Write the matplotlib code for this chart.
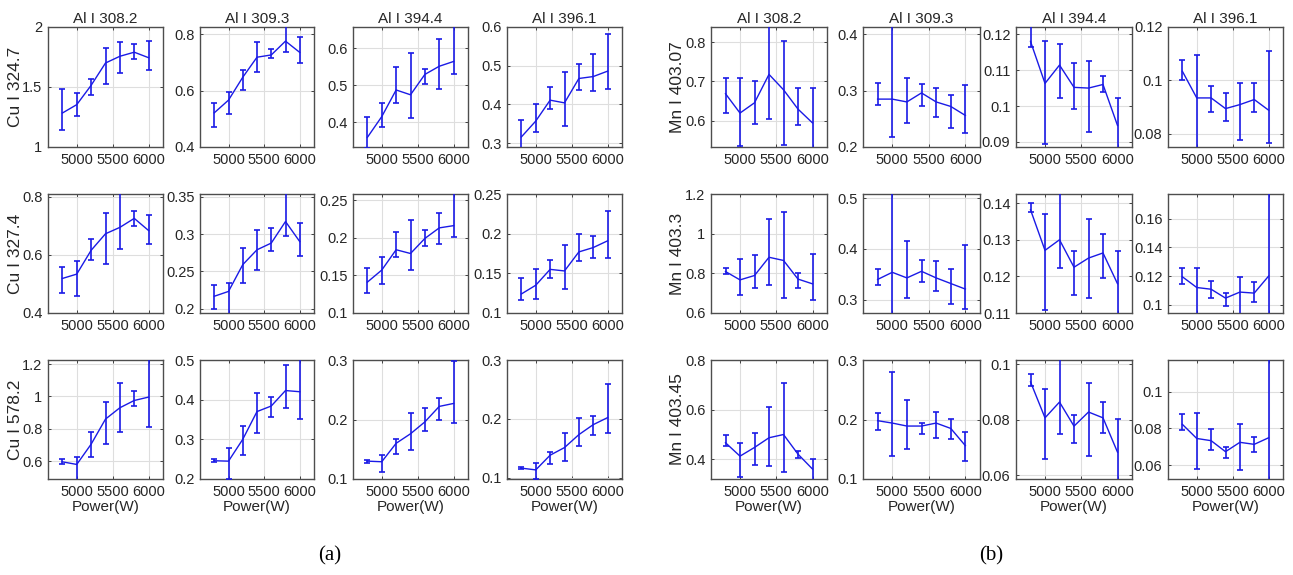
import matplotlib
matplotlib.use('Agg')
import matplotlib.pyplot as plt
import matplotlib.ticker as mticker

######## DATA ############
power = [4800, 5000, 5200, 5400, 5600, 5800, 6000]

al_lines = ['Al I 308.2', 'Al I 309.3', 'Al I 394.4', 'Al I 396.1']
cu_lines = ['Cu I 324.7', 'Cu I 327.4', 'Cu I 578.2']
mn_lines = ['Mn I 403.07', 'Mn I 403.3', 'Mn I 403.45']

# (a) Cu/Al intensity ratio: rows = Cu lines, columns = Al lines
cu_mean = [
    [[1.283, 1.353, 1.514, 1.70, 1.756, 1.79, 1.744],
     [0.521, 0.566, 0.647, 0.718, 0.726, 0.775, 0.735],
     [0.359, 0.415, 0.487, 0.474, 0.529, 0.551, 0.564],
     [0.316, 0.357, 0.411, 0.404, 0.467, 0.472, 0.486]],
    [[0.519, 0.534, 0.616, 0.673, 0.695, 0.726, 0.684],
     [0.2165, 0.223, 0.259, 0.279, 0.288, 0.317, 0.29],
     [0.141, 0.157, 0.184, 0.179, 0.199, 0.213, 0.216],
     [0.124, 0.135, 0.155, 0.153, 0.177, 0.1825, 0.191]],
    [[0.596, 0.58, 0.705, 0.86, 0.93, 0.975, 0.996],
     [0.246, 0.245, 0.3, 0.37, 0.384, 0.423, 0.42],
     [0.13, 0.129, 0.16, 0.176, 0.196, 0.222, 0.227],
     [0.116, 0.113, 0.138, 0.151, 0.173, 0.19, 0.202]],
]
cu_lo = [
    [[1.139, 1.256, 1.436, 1.528, 1.614, 1.733, 1.639],
     [0.471, 0.516, 0.602, 0.667, 0.716, 0.738, 0.699],
     [0.33, 0.388, 0.451, 0.412, 0.503, 0.49, 0.53],
     [0.285, 0.33, 0.387, 0.343, 0.437, 0.435, 0.441]],
    [[0.468, 0.459, 0.582, 0.57, 0.619, 0.701, 0.639],
     [0.199, 0.19, 0.234, 0.252, 0.277, 0.298, 0.271],
     [0.127, 0.139, 0.174, 0.157, 0.189, 0.191, 0.201],
     [0.116, 0.118, 0.144, 0.13, 0.165, 0.169, 0.169]],
    [[0.581, 0.48, 0.623, 0.705, 0.783, 0.938, 0.81],
     [0.243, 0.2, 0.261, 0.317, 0.357, 0.378, 0.35],
     [0.127, 0.111, 0.142, 0.148, 0.181, 0.2, 0.194],
     [0.114, 0.097, 0.1225, 0.128, 0.154, 0.173, 0.175]],
]
cu_hi = [
    [[1.486, 1.45, 1.569, 1.828, 1.875, 1.856, 1.883],
     [0.557, 0.596, 0.671, 0.772, 0.748, 0.84, 0.788],
     [0.414, 0.451, 0.55, 0.586, 0.544, 0.625, 0.68],
     [0.361, 0.4, 0.444, 0.485, 0.505, 0.53, 0.582]],
    [[0.557, 0.58, 0.656, 0.743, 0.83, 0.75, 0.739],
     [0.231, 0.234, 0.282, 0.305, 0.308, 0.36, 0.315],
     [0.16, 0.175, 0.207, 0.224, 0.21, 0.233, 0.27],
     [0.144, 0.155, 0.1665, 0.186, 0.2, 0.197, 0.229]],
    [[0.614, 0.623, 0.781, 0.963, 1.08, 1.035, 1.25],
     [0.25, 0.277, 0.334, 0.418, 0.406, 0.487, 0.52],
     [0.1325, 0.14, 0.167, 0.211, 0.219, 0.236, 0.299],
     [0.1175, 0.124, 0.144, 0.175, 0.202, 0.205, 0.259]],
]

# (b) Mn/Al intensity ratio: rows = Mn lines, columns = Al lines
mn_mean = [
    [[0.669, 0.62, 0.646, 0.718, 0.679, 0.63, 0.595],
     [0.285, 0.285, 0.28, 0.296, 0.28, 0.272, 0.256],
     [0.118, 0.1063, 0.1114, 0.1052, 0.105, 0.106, 0.0946],
     [0.1034, 0.0934, 0.0934, 0.0894, 0.0909, 0.0928, 0.0888]],
    [[0.809, 0.767, 0.789, 0.881, 0.865, 0.771, 0.747],
     [0.34, 0.354, 0.343, 0.356, 0.343, 0.332, 0.321],
     [0.1382, 0.1271, 0.13, 0.1225, 0.125, 0.1264, 0.118],
     [0.1195, 0.112, 0.1108, 0.1046, 0.1088, 0.1081, 0.12]],
    [[0.467, 0.413, 0.448, 0.487, 0.5, 0.421, 0.361],
     [0.198, 0.194, 0.189, 0.189, 0.194, 0.185, 0.156],
     [0.0937, 0.0807, 0.0864, 0.0777, 0.0828, 0.0807, 0.0683],
     [0.0822, 0.0745, 0.0733, 0.0673, 0.0724, 0.0713, 0.0749]],
]
mn_lo = [
    [[0.62, 0.537, 0.592, 0.604, 0.539, 0.589, 0.52],
     [0.274, 0.218, 0.242, 0.272, 0.253, 0.234, 0.225],
     [0.1165, 0.0894, 0.1021, 0.0993, 0.0929, 0.104, 0.085],
     [0.1, 0.07, 0.0881, 0.0846, 0.0775, 0.0881, 0.0766]],
    [[0.798, 0.689, 0.726, 0.739, 0.675, 0.726, 0.667],
     [0.329, 0.25, 0.303, 0.334, 0.318, 0.292, 0.282],
     [0.1375, 0.1107, 0.1223, 0.115, 0.1141, 0.1195, 0.108],
     [0.1143, 0.09, 0.1046, 0.0988, 0.09, 0.1016, 0.09]],
    [[0.453, 0.328, 0.377, 0.375, 0.348, 0.407, 0.3],
     [0.183, 0.138, 0.151, 0.176, 0.169, 0.168, 0.13],
     [0.0922, 0.0657, 0.0747, 0.0717, 0.067, 0.0753, 0.055],
     [0.0791, 0.0578, 0.0682, 0.0636, 0.0575, 0.0673, 0.045]],
]
mn_hi = [
    [[0.709, 0.709, 0.702, 0.86, 0.802, 0.684, 0.684],
     [0.314, 0.43, 0.323, 0.312, 0.304, 0.292, 0.31],
     [0.125, 0.1181, 0.1172, 0.112, 0.1125, 0.1084, 0.1021],
     [0.1077, 0.1096, 0.0979, 0.0952, 0.0991, 0.0991, 0.111]],
    [[0.826, 0.871, 0.893, 1.074, 1.107, 0.804, 0.898],
     [0.36, 0.53, 0.415, 0.378, 0.376, 0.36, 0.408],
     [0.14, 0.1371, 0.145, 0.127, 0.1358, 0.1317, 0.1268],
     [0.1258, 0.1258, 0.1162, 0.1085, 0.1195, 0.1157, 0.19]],
    [[0.497, 0.464, 0.507, 0.611, 0.708, 0.433, 0.401],
     [0.211, 0.28, 0.233, 0.194, 0.213, 0.201, 0.179],
     [0.0967, 0.091, 0.105, 0.0816, 0.0933, 0.0866, 0.0804],
     [0.0876, 0.0885, 0.0795, 0.0696, 0.0824, 0.0751, 0.125]],
]

cu_ylim = [[(1, 2), (0.4, 0.825), (0.333, 0.657), (0.29, 0.6)],
           [(0.4, 0.81), (0.194, 0.354), (0.1, 0.258), (0.1, 0.25)],
           [(0.49, 1.225), (0.2, 0.5), (0.1, 0.3), (0.0975, 0.3)]]
cu_yticks = [[[1, 1.5, 2], [0.4, 0.6, 0.8], [0.4, 0.5, 0.6], [0.3, 0.4, 0.5, 0.6]],
             [[0.4, 0.6, 0.8], [0.2, 0.25, 0.3, 0.35], [0.1, 0.15, 0.2, 0.25], [0.1, 0.15, 0.2, 0.25]],
             [[0.6, 0.8, 1, 1.2], [0.2, 0.3, 0.4, 0.5], [0.1, 0.2, 0.3], [0.1, 0.2, 0.3]]]
mn_ylim = [[(0.534, 0.838), (0.2, 0.413), (0.0886, 0.122), (0.075, 0.12)],
           [(0.6, 1.2), (0.274, 0.508), (0.11, 0.1425), (0.0942, 0.1773)],
           [(0.321, 0.8), (0.1, 0.3), (0.0586, 0.1016), (0.0524, 0.1173)]]
mn_yticks = [[[0.6, 0.7, 0.8], [0.2, 0.3, 0.4], [0.09, 0.1, 0.11, 0.12], [0.08, 0.1, 0.12]],
             [[0.6, 0.8, 1, 1.2], [0.3, 0.4, 0.5], [0.11, 0.12, 0.13, 0.14], [0.1, 0.12, 0.14, 0.16]],
             [[0.4, 0.6, 0.8], [0.1, 0.2, 0.3], [0.06, 0.08, 0.1], [0.06, 0.08, 0.1]]]
xticks = [5000, 5500, 6000]

######## LAYOUT (pixels) ############
W, H = 1293, 575
cols_a = [(48, 163), (200, 314), (353, 468), (507, 622)]
cols_b = [(711, 827), (863, 980), (1016, 1132), (1168, 1283)]
rows = [(27, 147), (194, 313), (360, 479)]
xlim = (4600, 6200)

plt.rcParams['font.family'] = ['Liberation Sans', 'DejaVu Sans']
plt.rcParams['font.size'] = 10.5
txt_col = '#262626'
line_col = '#1a1ae6'

fig = plt.figure(figsize=(W / 100, H / 100), dpi=100)


def add_panel(col, row, yl, yt, mean, lo, hi):
    x0, x1 = col
    y0, y1 = row
    ax = fig.add_axes([x0 / W, 1 - y1 / H, (x1 - x0) / W, (y1 - y0) / H])
    yerr = [[m - l for m, l in zip(mean, lo)], [h - m for m, h in zip(mean, hi)]]
    ax.errorbar(power, mean, yerr=yerr, color=line_col, lw=1.0, elinewidth=1.2,
                capsize=2.2, capthick=1.2, zorder=3)
    ax.set_xlim(*xlim)
    ax.set_ylim(*yl)
    ax.set_xticks(xticks)
    ax.set_yticks(yt)
    ax.yaxis.set_major_formatter(mticker.FuncFormatter(lambda v, p: '{:g}'.format(round(v, 4))))
    ax.grid(True, color='#dedede', lw=0.8, zorder=0)
    ax.tick_params(direction='in', top=True, right=True, length=2.5, width=0.6,
                   colors=txt_col, labelsize=10.5, pad=4)
    for s in ax.spines.values():
        s.set_color('#4d4d4d')
        s.set_linewidth(1.0)
    return ax


def ylabel(x_px, row, text):
    yc = (row[0] + row[1]) / 2
    fig.text(x_px / W, 1 - yc / H, text, rotation=90, ha='center', va='center',
             fontsize=12.5, color=txt_col)


for r in range(3):
    for c in range(4):
        for cols, means, los, his, ylims, yts in [
                (cols_a, cu_mean, cu_lo, cu_hi, cu_ylim, cu_yticks),
                (cols_b, mn_mean, mn_lo, mn_hi, mn_ylim, mn_yticks)]:
            ax = add_panel(cols[c], rows[r], ylims[r][c], yts[r][c],
                           means[r][c], los[r][c], his[r][c])
            if r == 0:
                ax.set_title(al_lines[c], fontsize=11, color=txt_col, pad=3)
            if r == 2:
                ax.set_xlabel('Power(W)', fontsize=11, color=txt_col, labelpad=1)
    ylabel(16, rows[r], cu_lines[r])
    ylabel(678, rows[r], mn_lines[r])

fig.text(330 / W, 1 - 556 / H, '(a)', ha='center', va='center', fontsize=15,
         family='Liberation Serif', color='black')
fig.text(991 / W, 1 - 556 / H, '(b)', ha='center', va='center', fontsize=15,
         family='Liberation Serif', color='black')

plt.savefig('out.png', dpi=100)
